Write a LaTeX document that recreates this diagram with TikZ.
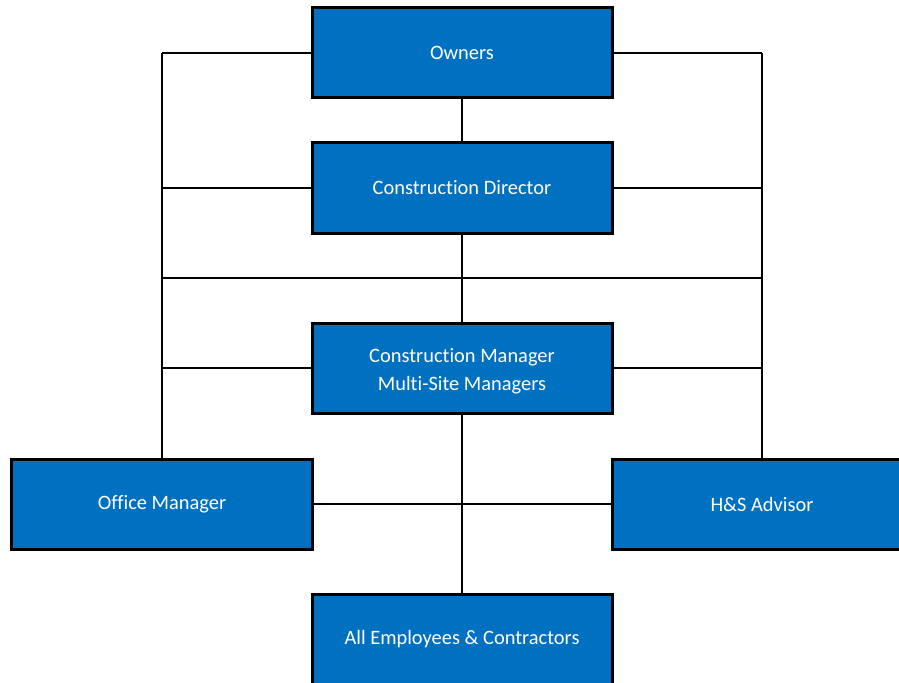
\documentclass[tikz,border=0pt]{standalone}
\usepackage{fontspec}
\setmainfont{Carlito}[Ligatures={NoCommon}]
\usetikzlibrary{backgrounds}
\begin{document}
\begin{tikzpicture}[x=1bp,y=-1bp,
  role/.style={draw=black,line width=3bp,fill=roleblue,minimum width=300bp,minimum height=90bp,
    inner sep=0pt,text=white,font=\fontsize{20.5}{28}\selectfont,align=center},
  link/.style={draw=black,line width=2.6bp}]
\definecolor{roleblue}{HTML}{0070C0}
\useasboundingbox (0,0) rectangle (899,683);
% boxes
\node[role] (own) at (462,53) {Owners};
\node[role] (dir) at (462,188) {Construction Director};
\node[role] (cm) at (462,368) {\rule{0pt}{21bp}Construction Manager\\Multi-Site Managers};
\node[role] (off) at (162,504) {Office Manager};
\node[role] (hs) at (762,504) {H\&S Advisor};
\node[role] (all) at (462,639) {All Employees \& Contractors};
% side rails and crossbar ends
\coordinate (lt) at (162,53);
\coordinate (rt) at (762,53);
\coordinate (lm) at (162,278);
\coordinate (rm) at (762,278);
\begin{scope}[on background layer]
  \draw[link] (lt) -- (off.north);
  \draw[link] (rt) -- (hs.north);
  \draw[link] (own.west) -- (lt);
  \draw[link] (own.east) -- (rt);
  \draw[link] (dir.west) -- (dir.west -| lt);
  \draw[link] (dir.east) -- (dir.east -| rt);
  \draw[link] (lm) -- (rm);
  \draw[link] (cm.west) -- (cm.west -| lt);
  \draw[link] (cm.east) -- (cm.east -| rt);
  % central spine
  \draw[link] (own.south) -- (dir.north);
  \draw[link] (dir.south) -- (cm.north);
  \draw[link] (cm.south) -- (all.north);
  \draw[link] (off.east) -- (hs.west);
\end{scope}
% the advisor box runs on past the right edge
\fill[roleblue] ([yshift=-1.5bp]hs.north east) rectangle ([yshift=1.5bp,xshift=60bp]hs.south east);
\draw[line width=3bp] (hs.north east) -- ++(60,0) (hs.south east) -- ++(60,0);
\end{tikzpicture}
\end{document}
